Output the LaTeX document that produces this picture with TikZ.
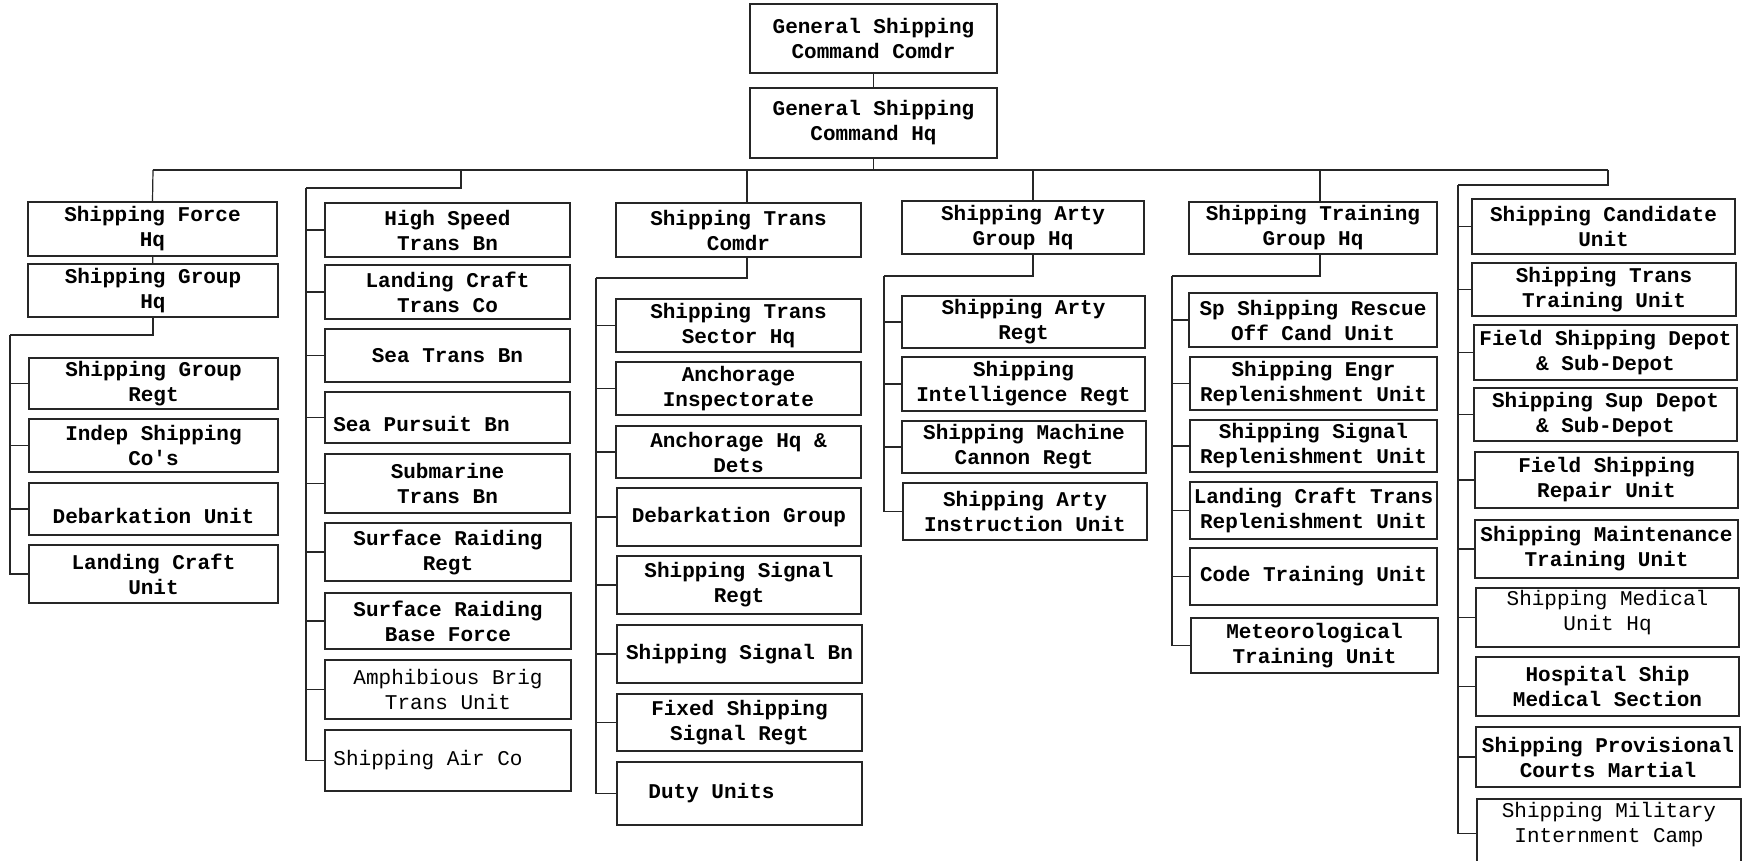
\documentclass[tikz,border=0pt]{standalone}
\usepackage{fontspec}
\newfontfamily\tw{Liberation Mono}
\newcommand\orgbox[7][]{%
  \node[box,minimum width={(#5-#3)*0.5pt},minimum height={(#6-#4)*0.5pt}] (#2) at ({(#3+#5)/2},{(#4+#6)/2}) {};
  \node[boxtext,#1] (#2-t) at (#2.center) {#7};}
\begin{document}
\begin{tikzpicture}[x=0.5pt,y=-0.5pt,
  box/.style={draw=black!85,line width=0.7pt,inner sep=0pt},
  boxtext/.style={inner sep=0pt,align=center,
    font=\tw\bfseries\fontsize{10.5}{12.5}\selectfont},
  light/.style={font=\tw\fontsize{10.5}{12.5}\selectfont},
  conn/.style={draw=black!85,line width=0.6pt}]
\fill[white] (0,0) rectangle (1753,861);
\useasboundingbox (0,0) rectangle (1753,861);

% top
\orgbox{cmd}{750}{4}{997}{73}{General Shipping\\Command Comdr}
\orgbox{hq}{750}{88}{997}{158}{General Shipping\\Command Hq}

% column 1
\orgbox{sfh}{28}{202}{277}{256}{Shipping Force\\Hq}
\orgbox{sgh}{28}{264}{278}{317}{Shipping Group\\Hq}
\orgbox{sgr}{29}{358}{278}{409}{Shipping Group\\Regt}
\orgbox{isc}{29}{419}{278}{472}{Indep Shipping\\Co's}
\orgbox[yshift=-3.5pt]{deu}{29}{483}{278}{535}{Debarkation Unit}
\orgbox{lcu}{29}{545}{278}{603}{Landing Craft\\Unit}

% column 2
\orgbox{hst}{325}{203}{570}{257}{High Speed\\Trans Bn}
\orgbox{lct}{325}{265}{570}{319}{Landing Craft\\Trans Co}
\orgbox{stb}{325}{329}{570}{382}{Sea Trans Bn}
\orgbox[xshift=-13pt,yshift=-3pt]{spb}{325}{392}{570}{443}{Sea Pursuit Bn}
\orgbox{sub}{325}{454}{570}{513}{Submarine\\Trans Bn}
\orgbox{srr}{325}{523}{571}{581}{Surface Raiding\\Regt}
\orgbox{srb}{325}{593}{571}{649}{Surface Raiding\\Base Force}
\orgbox[light]{abt}{325}{660}{571}{719}{Amphibious Brig\\Trans Unit}
\orgbox[light,xshift=-10pt]{sac}{325}{730}{571}{791}{Shipping Air Co}

% column 3
\orgbox{stc}{616}{203}{861}{257}{Shipping Trans\\Comdr}
\orgbox{sts}{616}{299}{861}{352}{Shipping Trans\\Sector Hq}
\orgbox{anc}{616}{362}{861}{415}{Anchorage\\Inspectorate}
\orgbox{ahd}{616}{426}{861}{478}{Anchorage Hq \&\\Dets}
\orgbox{deg}{617}{488}{861}{546}{Debarkation Group}
\orgbox{ssr}{617}{556}{861}{614}{Shipping Signal\\Regt}
\orgbox{ssb}{617}{625}{862}{683}{Shipping Signal Bn}
\orgbox{fss}{617}{694}{862}{751}{Fixed Shipping\\Signal Regt}
\orgbox[xshift=-14pt]{dut}{617}{762}{862}{825}{Duty Units}

% column 4
\orgbox{sag}{902}{201}{1144}{254}{Shipping Arty\\Group Hq}
\orgbox{sar}{902}{296}{1145}{348}{Shipping Arty\\Regt}
\orgbox{sir}{902}{357}{1145}{411}{Shipping\\Intelligence Regt}
\orgbox{smc}{902}{421}{1146}{473}{Shipping Machine\\Cannon Regt}
\orgbox{sai}{903}{483}{1147}{540}{Shipping Arty\\Instruction Unit}

% column 5
\orgbox{stg}{1189}{202}{1437}{254}{Shipping Training\\Group Hq}
\orgbox{ssc}{1189}{293}{1437}{347}{Sp Shipping Rescue\\Off Cand Unit}
\orgbox{ser}{1190}{357}{1437}{410}{Shipping Engr\\Replenishment Unit}
\orgbox{sgn}{1190}{420}{1437}{472}{Shipping Signal\\Replenishment Unit}
\orgbox{lcr}{1190}{482}{1437}{539}{Landing Craft Trans\\Replenishment  Unit}
\orgbox{ctu}{1190}{548}{1437}{605}{Code Training Unit}
\orgbox{mtu}{1191}{618}{1438}{673}{Meteorological\\Training Unit}

% column 6
\orgbox{scu}{1472}{199}{1735}{254}{Shipping Candidate\\Unit}
\orgbox{stt}{1472}{263}{1736}{316}{Shipping Trans\\Training Unit}
\orgbox{fsd}{1474}{325}{1737}{380}{Field Shipping Depot\\\& Sub-Depot}
\orgbox{ssd}{1474}{388}{1737}{441}{Shipping Sup Depot\\\& Sub-Depot}
\orgbox{fsr}{1475}{452}{1738}{508}{Field Shipping\\Repair Unit}
\orgbox{smt}{1475}{520}{1738}{578}{Shipping Maintenance\\Training Unit}
\orgbox[light,yshift=2.5pt]{smu}{1476}{588}{1739}{647}{Shipping Medical\\Unit Hq}
\orgbox{hsm}{1476}{657}{1739}{716}{Hospital Ship\\Medical Section}
\orgbox{spc}{1476}{727}{1740}{787}{Shipping Provisional\\Courts Martial}
\orgbox[light,yshift=4.25pt]{smi}{1477}{799}{1741}{868}{Shipping Military\\Internment Camp}

% connectors
\coordinate (bL) at (153,170);
\coordinate (bR) at (1608,170);
\coordinate (bc) at (873.5,170);
\coordinate (b2) at (461,170);
\coordinate (b3) at (747,170);
\coordinate (b4) at (1033,170);
\coordinate (b5) at (1320,170);
\coordinate (k1) at (10,335);
\coordinate (k2) at (306,188);
\coordinate (k3) at (596,278);
\coordinate (k4) at (884,276);
\coordinate (k5) at (1172,276);
\coordinate (k6) at (1458,185);

\draw[conn] (cmd) -- (hq);
\draw[conn] (hq.south) -- (bc);
\draw[conn] (bL) -- (bR);

\draw[conn] (bL) -- (sfh.north);
\draw[conn] (sfh) -- (sgh);
\draw[conn] (sgh.south) |- (k1);
\foreach \n in {sgr,isc,deu,lcu} \draw[conn] (k1) |- (\n.west);

\draw[conn] (b2) |- (k2);
\foreach \n in {hst,lct,stb,spb,sub,srr,srb,abt,sac} \draw[conn] (k2) |- (\n.west);

\draw[conn] (b3) -- (b3 |- stc.north);
\draw[conn] (b3 |- stc.south) |- (k3);
\foreach \n in {sts,anc,ahd,deg,ssr,ssb,fss,dut} \draw[conn] (k3) |- (\n.west);

\draw[conn] (b4) -- (b4 |- sag.north);
\draw[conn] (b4 |- sag.south) |- (k4);
\foreach \n in {sar,sir,smc,sai} \draw[conn] (k4) |- (\n.west);

\draw[conn] (b5) -- (b5 |- stg.north);
\draw[conn] (b5 |- stg.south) |- (k5);
\foreach \n in {ssc,ser,sgn,lcr,ctu,mtu} \draw[conn] (k5) |- (\n.west);

\draw[conn] (bR) |- (k6);
\foreach \n in {scu,stt,fsd,ssd,fsr,smt,smu,hsm,spc,smi} \draw[conn] (k6) |- (\n.west);
\end{tikzpicture}
\end{document}
